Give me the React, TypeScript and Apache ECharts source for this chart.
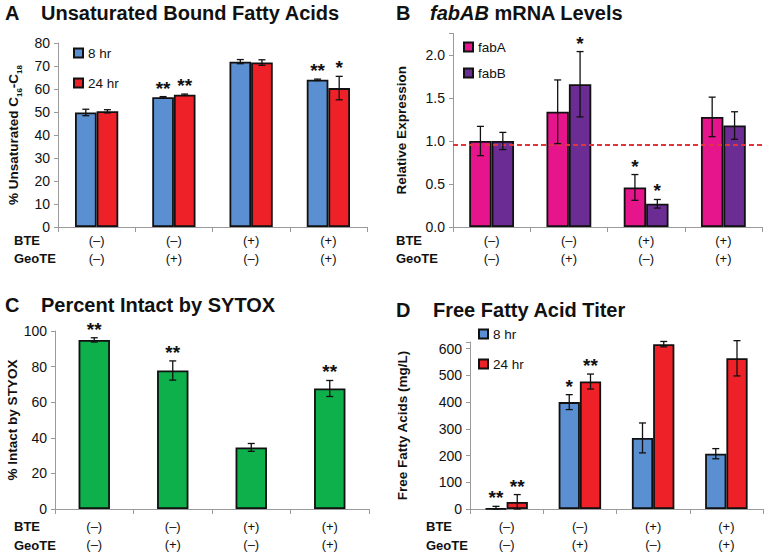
import React, { useEffect, useRef } from 'react';
import * as echarts from 'echarts';

const categories = ['(–)\n(–)', '(–)\n(+)', '(+)\n(–)', '(+)\n(+)'];

// Panel A – Unsaturated bound fatty acids (%)
const ufaHr8 = [49.8, 56.4, 71.9, 64.0];
const ufaHr8Err = [1.4, 0.3, 0.9, 0.3];
const ufaHr8Sig = ['', '**', '', '**'];
const ufaHr24 = [50.3, 57.5, 71.5, 60.4];
const ufaHr24Err = [0.7, 0.3, 1.2, 5.1];
const ufaHr24Sig = ['', '**', '', '*'];

// Panel B – fabAB mRNA levels
const fabA = [1.0, 1.34, 0.46, 1.28];
const fabAErr = [0.17, 0.37, 0.15, 0.23];
const fabASig = ['', '', '*', ''];
const fabB = [1.0, 1.66, 0.27, 1.18];
const fabBErr = [0.1, 0.38, 0.05, 0.16];
const fabBSig = ['', '*', '*', ''];
const fabRef = 0.96;

// Panel C – Percent intact by SYTOX
const intact = [95.0, 77.8, 34.6, 67.7];
const intactErr = [1.2, 5.4, 2.2, 4.5];
const intactSig = ['**', '**', '', '**'];

// Panel D – Free fatty acid titer (mg/L)
const ffaHr8 = [1, 400, 266, 207];
const ffaHr8Err = [9, 28, 56, 19];
const ffaHr8Sig = ['**', '*', '', ''];
const ffaHr24 = [26, 477, 617, 564];
const ffaHr24Err = [28, 28, 10, 66];
const ffaHr24Sig = ['**', '**', '', ''];

const FONT = '"Liberation Sans", Arial, sans-serif';
const BLUE = '#5a8fd2';
const RED = '#ed2127';
const MAGENTA = '#e6158c';
const PURPLE = '#6b2c94';
const GREEN = '#0db04b';
const AXIS = '#9a9a9a';
const INK = '#111111';

function errSeries(idx: number, values: number[], errs: number[], sigs: string[], offsetFrac: number) {
  return {
    type: 'custom',
    xAxisIndex: idx,
    yAxisIndex: idx,
    z: 10,
    silent: true,
    data: values.map((v, i) => [i, v, errs[i]]),
    renderItem: (params: any, api: any) => {
      const i = api.value(0);
      const v = api.value(1);
      const e = api.value(2);
      const sig = sigs[params.dataIndex];
      const band = api.size([1, 0])[0];
      const hi = api.coord([i, v + e]);
      const lo = api.coord([i, Math.max(0, v - e)]);
      const x = hi[0] + offsetFrac * band;
      const cap = 3.5;
      const st = { stroke: '#111', lineWidth: 1.3 };
      const children: any[] = [
        { type: 'line', shape: { x1: x, y1: hi[1], x2: x, y2: lo[1] }, style: st },
        { type: 'line', shape: { x1: x - cap, y1: hi[1], x2: x + cap, y2: hi[1] }, style: st },
        { type: 'line', shape: { x1: x - cap, y1: lo[1], x2: x + cap, y2: lo[1] }, style: st },
      ];
      if (sig) {
        children.push({
          type: 'text',
          x,
          y: hi[1] + 1,
          style: {
            text: sig,
            font: `bold 19px ${FONT}`,
            textAlign: 'center',
            textVerticalAlign: 'bottom',
            fill: '#111',
          },
        });
      }
      return { type: 'group', children };
    },
  };
}

function barSeries(idx: number, name: string, data: number[], color: string, width: string) {
  return {
    type: 'bar',
    name,
    xAxisIndex: idx,
    yAxisIndex: idx,
    data,
    barWidth: width,
    barGap: '0%',
    itemStyle: { color, borderColor: '#111', borderWidth: 1.8 },
  };
}

function xAxis(idx: number, margin: number) {
  return {
    type: 'category',
    gridIndex: idx,
    data: categories,
    axisLine: { show: true, lineStyle: { color: AXIS, width: 1 } },
    axisTick: { show: true, length: 5, lineStyle: { color: AXIS } },
    axisLabel: { fontFamily: FONT, fontSize: 13, color: INK, lineHeight: 18, margin, interval: 0 },
  };
}

function yAxis(idx: number, min: number, max: number, interval: number, name: string, nameGap: number, fmt?: (v: number) => string, rich?: any) {
  return {
    type: 'value',
    gridIndex: idx,
    min,
    max,
    interval,
    name,
    nameLocation: 'middle',
    nameGap,
    nameTextStyle: { fontFamily: FONT, fontSize: 13.5, fontWeight: 'bold', color: INK, rich },
    splitLine: { show: false },
    axisLine: { show: true, lineStyle: { color: AXIS, width: 1 } },
    axisTick: { show: true, length: 4, lineStyle: { color: AXIS } },
    axisLabel: {
      fontFamily: FONT,
      fontSize: 14,
      color: INK,
      margin: 8,
      formatter: (v: number) => {
        if (Math.abs(v / interval - Math.round(v / interval)) > 1e-6) return '';
        return fmt ? fmt(v) : String(v);
      },
    },
  };
}

function legend(names: string[], left: number, top: number, gap: number) {
  return {
    data: names,
    left,
    top,
    orient: 'vertical',
    padding: 0,
    itemGap: gap,
    itemWidth: 9,
    itemHeight: 9,
    icon: 'rect',
    selectedMode: false,
    textStyle: { fontFamily: FONT, fontSize: 13.5, color: INK },
  };
}

function txt(x: number, y: number, text: string, size: number, bold = true, rich?: any) {
  return {
    type: 'text',
    x,
    y,
    style: {
      text,
      fontFamily: FONT,
      fontSize: size,
      fontWeight: bold ? 'bold' : 'normal',
      fill: INK,
      textVerticalAlign: 'middle',
      rich,
    },
  };
}

export default function App() {
  const ref = useRef<HTMLDivElement>(null);
  useEffect(() => {
    if (!ref.current) return;
    const chart = echarts.init(ref.current, undefined, { renderer: 'svg' });
    const subRich = {
      a: { fontFamily: FONT, fontSize: 13.5, fontWeight: 'bold', color: INK, lineHeight: 20 },
      s: { fontFamily: FONT, fontSize: 8, fontWeight: 'bold', color: INK, verticalAlign: 'bottom', lineHeight: 20 },
    };
    const italicRich = { i: { fontFamily: FONT, fontSize: 20, fontWeight: 'bold', fontStyle: 'italic', fill: INK } };
    chart.setOption({
      animation: false,
      backgroundColor: '#ffffff',
      grid: [
        { left: 58, top: 43, width: 309, height: 184 },
        { left: 453, top: 33.5, width: 309, height: 193.5 },
        { left: 55, top: 331, width: 314, height: 178 },
        { left: 470, top: 342, width: 293, height: 167 },
      ],
      xAxis: [xAxis(0, 4), xAxis(1, 4), xAxis(2, 8), xAxis(3, 8)],
      yAxis: [
        yAxis(0, 0, 80, 10, '{a|% Unsaturated C}{s|16}{a|-C}{s|18}', 35, undefined, subRich),
        yAxis(1, 0, 2.25, 0.5, 'Relative Expression', 45, (v) => v.toFixed(1)),
        yAxis(2, 0, 100, 20, '% Intact by STYOX', 27),
        yAxis(3, 0, 625, 100, 'Free Fatty Acids (mg/L)', 61),
      ],
      legend: [
        legend(['8 hr', '24 hr'], 73, 46, 16),
        legend(['fabA', 'fabB'], 463, 40, 12),
        legend(['8 hr ', '24 hr '], 478, 327, 16),
      ],
      graphic: [
        txt(5, 13, 'A', 20),
        txt(41, 13, 'Unsaturated Bound Fatty Acids', 20),
        txt(396, 13, 'B', 20),
        txt(430, 13, '{i|fabAB} mRNA Levels', 20, true, italicRich),
        txt(5, 305, 'C', 20),
        txt(41, 305, 'Percent Intact by SYTOX', 20),
        txt(396, 310, 'D', 20),
        txt(433, 310, 'Free Fatty Acid Titer', 20),
        txt(14, 240, 'BTE', 13),
        txt(14, 258, 'GeoTE', 13),
        txt(396, 240, 'BTE', 13),
        txt(396, 258, 'GeoTE', 13),
        txt(14, 526, 'BTE', 13),
        txt(14, 545, 'GeoTE', 13),
        txt(426, 526, 'BTE', 13),
        txt(426, 545, 'GeoTE', 13),
      ],
      series: [
        barSeries(0, '8 hr', ufaHr8, BLUE, '28%'),
        barSeries(0, '24 hr', ufaHr24, RED, '28%'),
        errSeries(0, ufaHr8, ufaHr8Err, ufaHr8Sig, -0.14),
        errSeries(0, ufaHr24, ufaHr24Err, ufaHr24Sig, 0.14),
        {
          ...barSeries(1, 'fabA', fabA, MAGENTA, '29%'),
          markLine: {
            silent: true,
            symbol: ['none', 'none'],
            label: { show: false },
            lineStyle: { color: '#e0353d', type: [5, 3], width: 1.8 },
            data: [{ yAxis: fabRef }],
          },
        },
        barSeries(1, 'fabB', fabB, PURPLE, '29%'),
        errSeries(1, fabA, fabAErr, fabASig, -0.145),
        errSeries(1, fabB, fabBErr, fabBSig, 0.145),
        barSeries(2, 'Intact', intact, GREEN, '40%'),
        errSeries(2, intact, intactErr, intactSig, 0),
        barSeries(3, '8 hr ', ffaHr8, BLUE, '29%'),
        barSeries(3, '24 hr ', ffaHr24, RED, '29%'),
        errSeries(3, ffaHr8, ffaHr8Err, ffaHr8Sig, -0.145),
        errSeries(3, ffaHr24, ffaHr24Err, ffaHr24Sig, 0.145),
      ],
    });
    return () => chart.dispose();
  }, []);
  return (
    <div
      ref={ref}
      style={{ position: 'fixed', left: 0, top: 0, width: 767, height: 556, background: '#fff' }}
    />
  );
}
